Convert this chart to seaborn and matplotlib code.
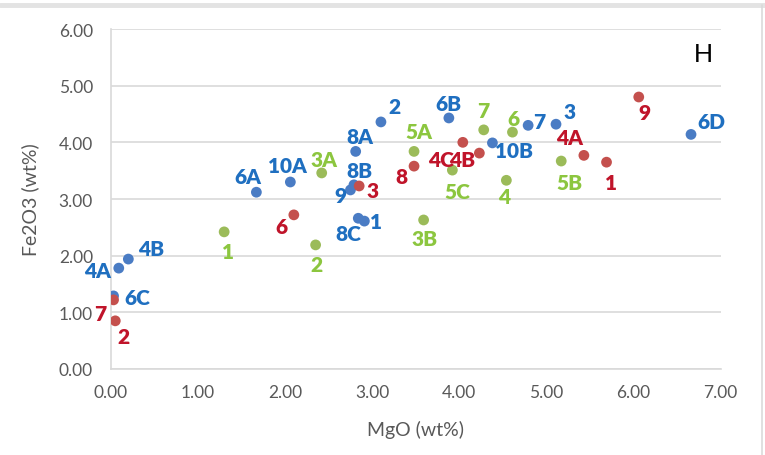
import numpy as np
import pandas as pd
import matplotlib
matplotlib.use("Agg")
import matplotlib.pyplot as plt
import seaborn as sns

# --- data ---
blue_labels = ["4A", "4B", "6C", "6A", "10A", "8A", "2", "6B", "8B", "9", "8C", "1", "10B", "7", "3", "6D"]
blue_mgo = [0.09, 0.20, 0.03, 1.67, 2.06, 2.81, 3.10, 3.88, 2.79, 2.75, 2.84, 2.91, 4.38, 4.79, 5.11, 6.66]
blue_fe = [1.78, 1.94, 1.29, 3.12, 3.30, 3.84, 4.36, 4.43, 3.25, 3.16, 2.66, 2.61, 3.99, 4.30, 4.32, 4.14]

red_labels = ["7", "2", "6", "3", "8", "4C", "4B", "4A", "1", "9"]
red_mgo = [0.03, 0.05, 2.10, 2.85, 3.48, 4.04, 4.23, 5.43, 5.69, 6.06]
red_fe = [1.22, 0.85, 2.72, 3.23, 3.58, 4.00, 3.81, 3.77, 3.65, 4.80]

green_labels = ["1", "2", "3A", "3B", "5A", "5C", "7", "6", "4", "5B"]
green_mgo = [1.30, 2.35, 2.42, 3.59, 3.48, 3.92, 4.28, 4.61, 4.54, 5.17]
green_fe = [2.42, 2.19, 3.46, 2.63, 3.84, 3.51, 4.22, 4.18, 3.33, 3.67]

x_ticks = [0, 1, 2, 3, 4, 5, 6, 7]
y_ticks = [0, 1, 2, 3, 4, 5, 6]

# label placement (pixel offsets from each dot), layout only
blue_offsets = [(-21, -2), (23, 11), (24, -2), (-9, 16), (-3, 17), (4, 15), (14, 15), (0, 14),
                (6, 14), (-10, -6), (-10, -15), (12, 0), (22, -8), (11, 4), (14, 13), (20, 13)]
red_offsets = [(-13, -14), (8, -16), (-12, -12), (13, -5), (-13, -10), (-22, -17), (-17, -6),
               (-14, 18), (4, -20), (6, -15)]
green_offsets = [(4, -20), (1, -20), (2, 13), (1, -19), (5, 20), (5, -21), (0, 19), (1, 14),
                 (-2, -16), (8, -21)]

marker_colors = {"blue": "#4A7CC4", "red": "#C4504D", "green": "#9BBB59"}
label_colors = {"blue": "#1F6FC0", "red": "#C0142A", "green": "#8CC63F"}

sns.set_theme(style="white")
plt.rcParams["font.family"] = ["Lato", "DejaVu Sans"]

df = pd.concat([
    pd.DataFrame({"MgO": blue_mgo, "Fe2O3": blue_fe, "label": blue_labels, "group": "blue"}),
    pd.DataFrame({"MgO": red_mgo, "Fe2O3": red_fe, "label": red_labels, "group": "red"}),
    pd.DataFrame({"MgO": green_mgo, "Fe2O3": green_fe, "label": green_labels, "group": "green"}),
], ignore_index=True)
offsets = blue_offsets + red_offsets + green_offsets

fig = plt.figure(figsize=(7.65, 4.56), dpi=100)
ax = fig.add_axes([0.145, 0.1886, 0.797, 0.7456])

sns.scatterplot(data=df, x="MgO", y="Fe2O3", hue="group", palette=marker_colors,
                s=60, linewidth=0, legend=False, ax=ax, zorder=3)

# 4B is drawn first so 4C sits on top of it, as in the reference
order = sorted(range(len(df)), key=lambda i: df.loc[i, "label"] == "4C")
for i in order:
    row = df.loc[i]
    ax.annotate(row["label"], (row["MgO"], row["Fe2O3"]), xytext=offsets[i],
                textcoords="offset pixels", ha="center", va="center",
                fontsize=15, fontweight="heavy", color=label_colors[row["group"]], zorder=4)

ax.set_xlim(0, 7)
ax.set_ylim(0, 6)
ax.set_xticks(x_ticks)
ax.set_yticks(y_ticks)
ax.set_xticklabels([f"{v:.2f}" for v in x_ticks])
ax.set_yticklabels([f"{v:.2f}" for v in y_ticks])
ax.tick_params(axis="x", length=0, labelsize=12.5, labelcolor="#595959", pad=11)
ax.tick_params(axis="y", length=0, labelsize=12.5, labelcolor="#595959", pad=13)
ax.yaxis.grid(True, color="#D9D9D9", linewidth=1.2)
ax.xaxis.grid(False)
ax.set_axisbelow(True)
for side in ["top", "right"]:
    ax.spines[side].set_visible(False)
for side in ["left", "bottom"]:
    ax.spines[side].set_color("#D9D9D9")
    ax.spines[side].set_linewidth(1.2)

ax.set_xlabel("MgO (wt%)", fontsize=14, color="#595959", labelpad=14)
ax.set_ylabel("Fe2O3 (wt%)", fontsize=14, color="#595959", labelpad=14)

fig.text(0.919, 0.88, "H", fontsize=19, color="black", ha="center", va="center",
         family=["Liberation Sans", "DejaVu Sans"])

# chart frame
fig.add_artist(plt.Line2D([0, 1], [0.987, 0.987], transform=fig.transFigure,
                          color="#E3E3E3", linewidth=3.5))
fig.add_artist(plt.Line2D([0.996, 0.996], [0, 0.987], transform=fig.transFigure,
                          color="#DADADA", linewidth=1.2))

fig.savefig("out.png", dpi=100)
